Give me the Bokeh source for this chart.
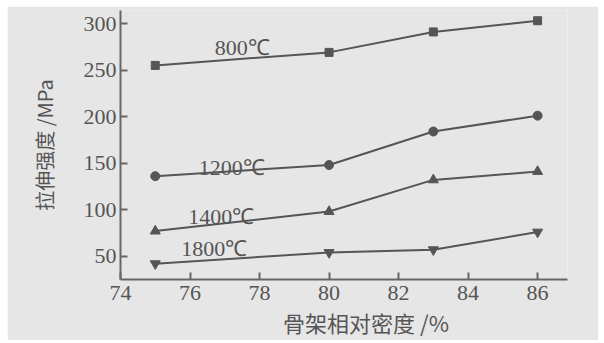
from bokeh.plotting import figure
from bokeh.models import Label, FixedTicker
from bokeh.embed import file_html
from bokeh.resources import INLINE

density = [75, 80, 83, 86]
s800 = [255, 269, 291, 303]
s1200 = [136, 148, 184, 201]
s1400 = [77, 98, 132, 141]
s1800 = [42, 54, 57, 76]
series_names = ["800℃", "1200℃", "1400℃", "1800℃"]
label_x = [77.5, 77.2, 76.9, 76.7]
label_y = [274, 145, 93, 58]
x_ticks = [74, 76, 78, 80, 82, 84, 86]
y_ticks = [50, 100, 150, 200, 250, 300]

BG = "#e6e6e6"
INK = "#555555"

p = figure(width=591, height=334, output_backend="svg", toolbar_location=None,
           x_range=(74, 86.86), y_range=(25, 314),
           background_fill_color=BG, border_fill_color=BG,
           min_border_left=113, min_border_right=31, min_border_top=4, min_border_bottom=54)
p.margin = (6, 6, 3, 7)
p.outline_line_color = None
p.grid.visible = False

for ax in (p.xaxis[0], p.yaxis[0]):
    ax.axis_line_color = "#666666"
    ax.axis_line_width = 2
    ax.major_tick_line_color = "#666666"
    ax.major_tick_line_width = 2
    ax.major_tick_in = 7
    ax.major_tick_out = 0
    ax.minor_tick_line_color = None
    ax.major_label_text_font = "Liberation Serif"
    ax.major_label_text_font_size = "22px"
    ax.major_label_text_color = INK

p.xaxis.ticker = FixedTicker(ticks=x_ticks)
p.yaxis.ticker = FixedTicker(ticks=y_ticks)
p.xaxis.major_label_standoff = 6
p.yaxis.major_label_standoff = 4

p.yaxis.axis_label = "拉伸强度 /MPa"
p.yaxis.axis_label_text_font = "Noto Sans CJK SC"
p.yaxis.axis_label_text_font_size = "20px"
p.yaxis.axis_label_text_font_style = "normal"
p.yaxis.axis_label_text_color = INK
p.yaxis.axis_label_standoff = 22

p.xaxis.axis_label = "\u3000\u3000骨架相对密度 /%"
p.xaxis.axis_label_text_font = "Noto Sans CJK SC"
p.xaxis.axis_label_text_font_size = "22px"
p.xaxis.axis_label_text_font_style = "normal"
p.xaxis.axis_label_text_color = INK
p.xaxis.axis_label_standoff = 3

data = [s800, s1200, s1400, s1800]
markers = ["square", "circle", "triangle", "inverted_triangle"]
sizes = [8, 9, 10, 10]
for vals, m, sz in zip(data, markers, sizes):
    p.line(density, vals, line_color=INK, line_width=2)
    p.scatter(density, vals, marker=m, size=sz, fill_color=INK, line_color=INK)

for name, lx, ly in zip(series_names, label_x, label_y):
    p.add_layout(Label(x=lx, y=ly, text=name, text_font="Liberation Serif",
                       text_font_size="22px", text_color=INK,
                       text_align="center", text_baseline="middle"))

open("out.html", "w").write(file_html(p, INLINE))
